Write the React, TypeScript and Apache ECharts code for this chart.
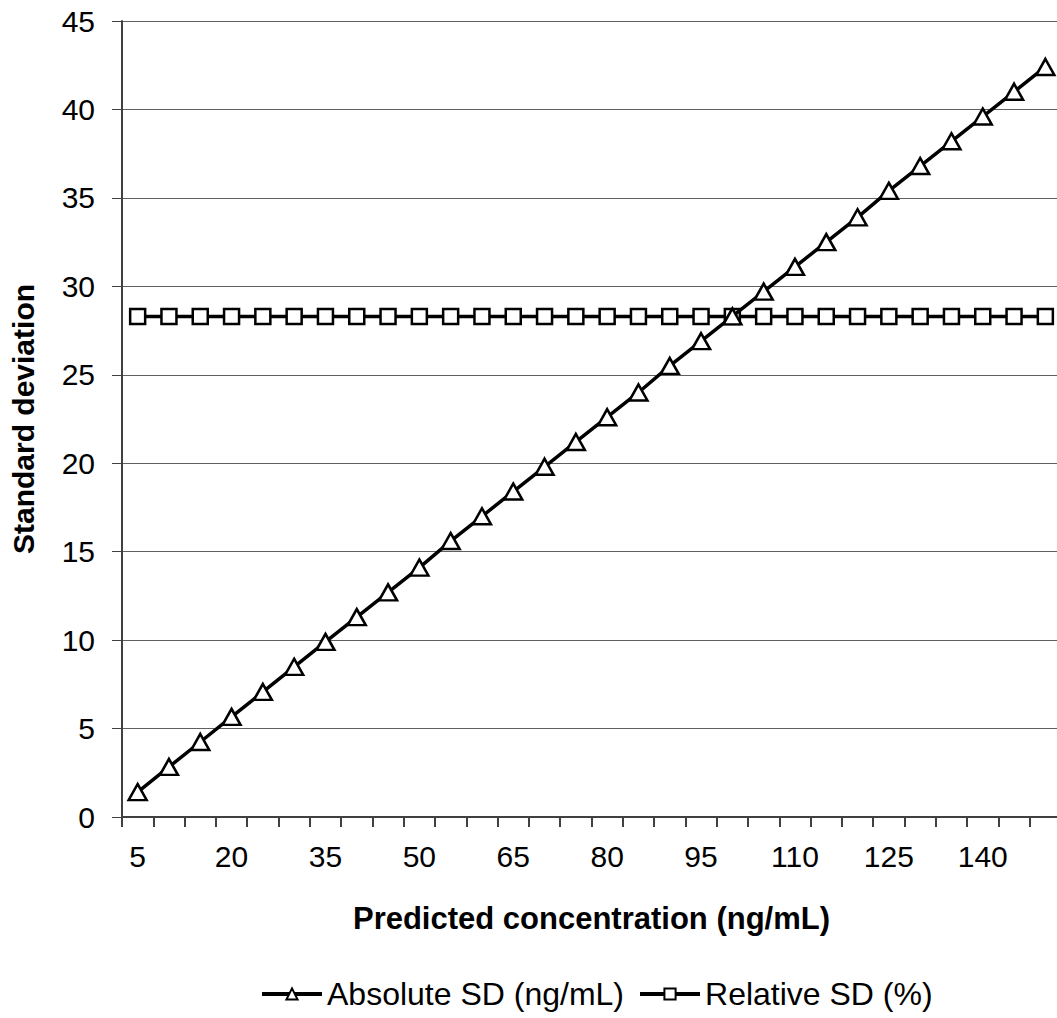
import React, { useEffect, useRef } from "react";
import * as echarts from "echarts";

const categories = [
  "5", "10", "15", "20", "25", "30", "35", "40", "45", "50",
  "55", "60", "65", "70", "75", "80", "85", "90", "95", "100",
  "105", "110", "115", "120", "125", "130", "135", "140", "145", "150",
];

const absoluteSD = [
  1.41, 2.83, 4.24, 5.66, 7.07, 8.49, 9.9, 11.3, 12.7, 14.1,
  15.6, 17.0, 18.4, 19.8, 21.2, 22.6, 24.0, 25.5, 26.9, 28.3,
  29.7, 31.1, 32.5, 33.9, 35.4, 36.8, 38.2, 39.6, 41.0, 42.4,
];

const relativeSD = [
  28.3, 28.3, 28.3, 28.3, 28.3, 28.3, 28.3, 28.3, 28.3, 28.3,
  28.3, 28.3, 28.3, 28.3, 28.3, 28.3, 28.3, 28.3, 28.3, 28.3,
  28.3, 28.3, 28.3, 28.3, 28.3, 28.3, 28.3, 28.3, 28.3, 28.3,
];

const seriesNames = ["Absolute SD (ng/mL)", "Relative SD (%)"];
const xTitle = "Predicted concentration (ng/mL)";
const yTitle = "Standard deviation";

const FONT = "'Liberation Sans', Arial, sans-serif";

export default function App() {
  const ref = useRef<HTMLDivElement>(null);
  useEffect(() => {
    if (!ref.current) return;
    const chart = echarts.init(ref.current, null, { renderer: "svg" });
    chart.setOption({
      animation: false,
      backgroundColor: "#fff",
      textStyle: { fontFamily: FONT, color: "#000" },
      grid: {
        left: 122,
        top: 21,
        right: -4,
        bottom: 201,
        containLabel: false,
        outerBoundsMode: "none",
      },
      legend: {
        data: seriesNames,
        left: 255,
        top: 973,
        itemWidth: 60,
        itemHeight: 14,
        itemGap: 14,
        lineStyle: { width: 4, color: "#000" },
        textStyle: { fontSize: 32, color: "#000", fontFamily: FONT },
      },
      xAxis: {
        type: "category",
        data: categories,
        boundaryGap: true,
        name: xTitle,
        nameLocation: "middle",
        nameGap: 86,
        nameTextStyle: { fontSize: 31, fontWeight: "bold", color: "#000", fontFamily: FONT },
        axisLine: { show: true, lineStyle: { color: "#404040", width: 2 } },
        axisTick: { show: true, interval: 0, length: 10, lineStyle: { color: "#404040", width: 2 } },
        axisLabel: { interval: 2, fontSize: 30, color: "#000", margin: 24, fontFamily: FONT },
        splitLine: { show: false },
      },
      yAxis: {
        type: "value",
        min: 0,
        max: 45,
        interval: 5,
        name: yTitle,
        nameLocation: "middle",
        nameGap: 84,
        nameTextStyle: { fontSize: 30, fontWeight: "bold", color: "#000", fontFamily: FONT },
        axisLine: { show: true, lineStyle: { color: "#404040", width: 2 } },
        axisTick: { show: true, length: 10, lineStyle: { color: "#404040", width: 1 } },
        axisLabel: { fontSize: 30, color: "#000", margin: 27, fontFamily: FONT },
        splitLine: { show: true, lineStyle: { color: "#606060", width: 1 } },
      },
      series: [
        {
          name: seriesNames[1],
          type: "line",
          data: relativeSD,
          symbol: "rect",
          symbolSize: 15,
          lineStyle: { color: "#000", width: 3.5 },
          itemStyle: { color: "#fff", borderColor: "#000", borderWidth: 2.5 },
          z: 2,
        },
        {
          name: seriesNames[0],
          type: "line",
          data: absoluteSD,
          symbol: "triangle",
          symbolSize: [18, 16],
          lineStyle: { color: "#000", width: 3.5 },
          itemStyle: { color: "#fff", borderColor: "#000", borderWidth: 2.5 },
          z: 3,
        },
      ],
    });
    return () => chart.dispose();
  }, []);
  return <div ref={ref} style={{ width: 1057, height: 1018, position: "absolute", left: 0, top: 0 }} />;
}
